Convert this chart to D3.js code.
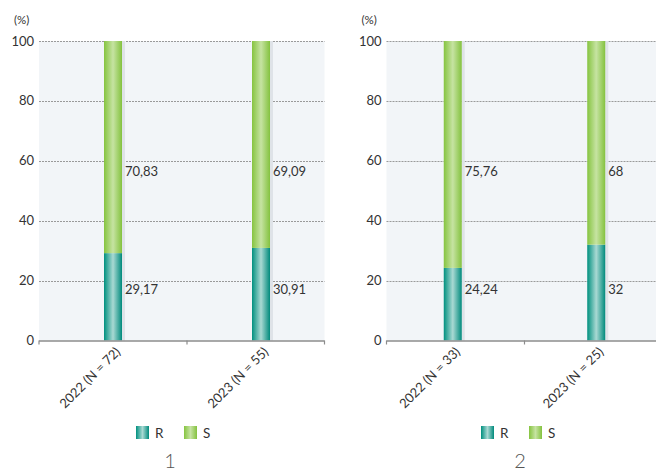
<!DOCTYPE html>
<html><head><meta charset="utf-8">
<script src="https://cdn.jsdelivr.net/npm/d3@7"></script>
<style>
html,body{margin:0;padding:0;background:#fff;}
svg{display:block;font-family:Lato,"DejaVu Sans",sans-serif;}
</style></head>
<body><svg id="c" width="656" height="474"></svg>
<script>
const panelTitles = ["1", "2"];
const categories1 = ["2022 (N = 72)", "2023 (N = 55)"];
const categories2 = ["2022 (N = 33)", "2023 (N = 25)"];
const seriesR1 = [29.17, 30.91];
const seriesS1 = [70.83, 69.09];
const seriesR2 = [24.24, 32];
const seriesS2 = [75.76, 68];
const seriesNames = ["R", "S"];
const yTicks = [0, 20, 40, 60, 80, 100];
const yUnit = "(%)";

const svg = d3.select("#c");
const defs = svg.append("defs");
function grad(id, edge, mid, edge2) {
  const g = defs.append("linearGradient").attr("id", id).attr("x1", 0).attr("x2", 1).attr("y1", 0).attr("y2", 0);
  g.append("stop").attr("offset", "0%").attr("stop-color", edge);
  g.append("stop").attr("offset", "50%").attr("stop-color", mid);
  g.append("stop").attr("offset", "100%").attr("stop-color", edge2);
}
grad("gR", "#00907f", "#a9d9d3", "#008a7c");
grad("gS", "#86c440", "#c6e3a2", "#84c23f");
const fills = {R: "url(#gR)", S: "url(#gS)"};

const y = d3.scaleLinear().domain([0, 100]).range([340.5, 41]);
const fmt = v => String(v).replace(".", ",");

const panels = [
  {title: panelTitles[0], cats: categories1, R: seriesR1, S: seriesS1,
   left: 39, right: 324.5, band: [39, 335], legendX: 136, titleX: 170},
  {title: panelTitles[1], cats: categories2, R: seriesR2, S: seriesS2,
   left: 386.5, right: 656, band: [381, 668], legendX: 481, titleX: 520}
];

panels.forEach(p => {
  const g = svg.append("g");
  const x = d3.scaleBand().domain(p.cats).range(p.band).padding(0);
  const bw = 18;
  g.append("rect").attr("x", p.left).attr("y", y(100)).attr("width", p.right - p.left)
    .attr("height", y(0) - y(100)).attr("fill", "#f2f5f8");
  g.selectAll(".grid").data(yTicks.filter(t => t > 0)).join("line")
    .attr("x1", p.left).attr("x2", p.right).attr("y1", d => Math.round(y(d)) + 0.5).attr("y2", d => Math.round(y(d)) + 0.5)
    .attr("stroke", "#9a9a9a").attr("stroke-width", 1).attr("stroke-dasharray", "2,1");
  g.selectAll(".yl").data(yTicks).join("text")
    .attr("x", p.left - 5).attr("y", d => y(d)).attr("dy", "0.35em")
    .attr("text-anchor", "end").attr("font-size", 13).attr("fill", "#333").text(d => d);
  g.append("text").attr("x", p.left - 25).attr("y", 20).attr("dy", "0.35em")
    .attr("font-size", 11.5).attr("fill", "#333").text(yUnit);
  const cw = p.cats.map((c, i) => ({c, r: p.R[i], s: p.S[i]}));
  const bars = g.selectAll(".bar").data(cw).join("g");
  bars.append("rect").attr("x", d => x(d.c) + x.bandwidth() / 2 + bw / 2).attr("y", y(100))
    .attr("width", 3).attr("height", y(0) - y(100)).attr("fill", "#dfe3e8");
  bars.append("rect").attr("x", d => x(d.c) + x.bandwidth() / 2 - bw / 2).attr("y", d => y(d.r))
    .attr("width", bw).attr("height", d => y(0) - y(d.r)).attr("fill", fills.R);
  bars.append("rect").attr("x", d => x(d.c) + x.bandwidth() / 2 - bw / 2).attr("y", d => y(d.r + d.s))
    .attr("width", bw).attr("height", d => y(d.r) - y(d.r + d.s)).attr("fill", fills.S);
  bars.append("text").attr("x", d => x(d.c) + x.bandwidth() / 2 + bw / 2 + 3).attr("y", y(17))
    .attr("dy", "0.35em").attr("font-size", 13).attr("fill", "#333").text(d => fmt(d.r));
  bars.append("text").attr("x", d => x(d.c) + x.bandwidth() / 2 + bw / 2 + 3).attr("y", y(56.5))
    .attr("dy", "0.35em").attr("font-size", 13).attr("fill", "#333").text(d => fmt(d.s));
  g.append("line").attr("x1", p.left).attr("x2", p.right).attr("y1", y(0) + 0.5).attr("y2", y(0) + 0.5)
    .attr("stroke", "#8c8c8c").attr("stroke-width", 1.5);
  const tickXs = [p.left, x(p.cats[1])];
  if (p.right < 650) tickXs.push(p.right);
  g.selectAll(".xt").data(tickXs).join("line")
    .attr("x1", d => d).attr("x2", d => d).attr("y1", y(0)).attr("y2", y(0) + 4)
    .attr("stroke", "#8c8c8c").attr("stroke-width", 1.2);
  g.selectAll(".xl").data(p.cats).join("text")
    .attr("transform", d => `translate(${x(d) + x.bandwidth() / 2 + 5},${y(0) + 9}) rotate(-45)`)
    .attr("text-anchor", "end").attr("dy", "0.35em").attr("font-size", 13).attr("fill", "#333").text(d => d);
  seriesNames.forEach((n, i) => {
    const lx = p.legendX + i * 48;
    g.append("rect").attr("x", lx).attr("y", 426).attr("width", 13).attr("height", 13).attr("fill", fills[n]);
    g.append("text").attr("x", lx + 19).attr("y", 433).attr("dy", "0.35em").attr("font-size", 13.5)
      .attr("fill", "#333").text(n);
  });
  g.append("text").attr("x", p.titleX).attr("y", 468).attr("text-anchor", "middle")
    .attr("font-size", 20).attr("font-weight", 300).attr("fill", "#555").text(p.title);
});
</script></body></html>
